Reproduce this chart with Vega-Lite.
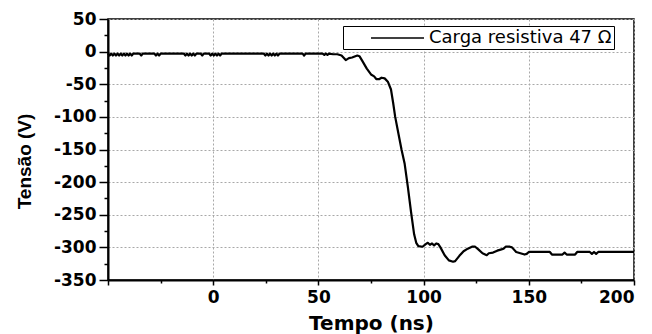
{
 "$schema": "https://vega.github.io/schema/vega-lite/v6.json",
 "width": 526,
 "height": 261,
 "autosize": {"type": "none"},
 "padding": {"left": 108, "top": 19, "right": 18, "bottom": 54},
 "background": "white",
 "config": {
  "view": {"stroke": "black", "strokeWidth": 1.5}
 },
 "data": {"values": [
  {"t": -50, "v": -3}, {"t": -49.2, "v": -6}, {"t": -48.5, "v": -3}, {"t": -47.7, "v": -6}, {"t": -47, "v": -3}, {"t": -46.2, "v": -6}, {"t": -45.5, "v": -3}, {"t": -44.7, "v": -6}, {"t": -44, "v": -3}, {"t": -43.2, "v": -6}, {"t": -42.5, "v": -3}, {"t": -41.7, "v": -6}, {"t": -41, "v": -3}, {"t": -40.2, "v": -6}, {"t": -39.5, "v": -3}, {"t": -38.7, "v": -6}, {"t": -38, "v": -3},
  {"t": -35, "v": -3}, {"t": -34.2, "v": -6}, {"t": -33.5, "v": -3},
  {"t": -28, "v": -3}, {"t": -27.2, "v": -6}, {"t": -26.5, "v": -3}, {"t": -25.7, "v": -6}, {"t": -25, "v": -3},
  {"t": -14, "v": -3}, {"t": -13.2, "v": -6}, {"t": -12.5, "v": -3}, {"t": -11.7, "v": -6}, {"t": -11, "v": -3}, {"t": -10.2, "v": -6}, {"t": -9.5, "v": -3}, {"t": -8.7, "v": -6}, {"t": -8, "v": -3},
  {"t": -6, "v": -3}, {"t": -5.2, "v": -6}, {"t": -4.5, "v": -3},
  {"t": -2, "v": -3}, {"t": -1.2, "v": -6}, {"t": -0.5, "v": -3}, {"t": 0.3, "v": -6}, {"t": 1, "v": -3}, {"t": 1.8, "v": -6}, {"t": 2.5, "v": -3}, {"t": 3.3, "v": -6}, {"t": 4, "v": -3},
  {"t": 24, "v": -3}, {"t": 24.8, "v": -6}, {"t": 25.5, "v": -3}, {"t": 26.3, "v": -6}, {"t": 27, "v": -3}, {"t": 27.8, "v": -6}, {"t": 28.5, "v": -3}, {"t": 29.3, "v": -6}, {"t": 30, "v": -3}, {"t": 30.8, "v": -6}, {"t": 31.5, "v": -3},
  {"t": 42.5, "v": -3}, {"t": 43.2, "v": -6}, {"t": 44, "v": -3},
  {"t": 52, "v": -3}, {"t": 52.8, "v": -5}, {"t": 53.5, "v": -3}, {"t": 54.3, "v": -5}, {"t": 55, "v": -3}, {"t": 57, "v": -4},
  {"t": 59, "v": -4}, {"t": 61, "v": -6}, {"t": 63, "v": -13}, {"t": 64.5, "v": -10}, {"t": 66, "v": -9}, {"t": 68.5, "v": -6}, {"t": 69.5, "v": -7}, {"t": 71, "v": -15}, {"t": 73, "v": -26}, {"t": 75, "v": -35}, {"t": 76.5, "v": -38}, {"t": 77.5, "v": -42}, {"t": 79, "v": -42}, {"t": 80, "v": -40}, {"t": 81.5, "v": -41}, {"t": 83, "v": -46}, {"t": 84.5, "v": -58}, {"t": 85.5, "v": -78}, {"t": 86.5, "v": -100}, {"t": 88, "v": -125}, {"t": 89.5, "v": -150}, {"t": 91, "v": -172}, {"t": 92.5, "v": -207}, {"t": 94, "v": -245}, {"t": 95.5, "v": -280}, {"t": 96.5, "v": -293}, {"t": 97.5, "v": -298}, {"t": 99.5, "v": -299},
  {"t": 101, "v": -295}, {"t": 102, "v": -293}, {"t": 103, "v": -296}, {"t": 104, "v": -294}, {"t": 105, "v": -297}, {"t": 106, "v": -294}, {"t": 107, "v": -295}, {"t": 108, "v": -300}, {"t": 110, "v": -312}, {"t": 112, "v": -320}, {"t": 114, "v": -322}, {"t": 115, "v": -321}, {"t": 117, "v": -313}, {"t": 119, "v": -306}, {"t": 121, "v": -302}, {"t": 123, "v": -299}, {"t": 124.5, "v": -299}, {"t": 126, "v": -303}, {"t": 128, "v": -309}, {"t": 130, "v": -312}, {"t": 131, "v": -309}, {"t": 133, "v": -308}, {"t": 135, "v": -305}, {"t": 137, "v": -303}, {"t": 138, "v": -302}, {"t": 139, "v": -299}, {"t": 141, "v": -299}, {"t": 142, "v": -300}, {"t": 144, "v": -307}, {"t": 146, "v": -309}, {"t": 148, "v": -311}, {"t": 149, "v": -310}, {"t": 150, "v": -307},
  {"t": 160, "v": -307}, {"t": 161, "v": -311}, {"t": 166, "v": -311}, {"t": 167, "v": -308}, {"t": 168, "v": -311}, {"t": 172, "v": -311}, {"t": 173, "v": -307}, {"t": 179, "v": -307}, {"t": 180, "v": -310}, {"t": 181, "v": -307}, {"t": 182, "v": -310}, {"t": 183, "v": -307}, {"t": 200, "v": -307}
 ]},
 "mark": {"type": "line", "strokeWidth": 2.2, "strokeJoin": "round"},
 "encoding": {
  "x": {"field": "t", "type": "quantitative",
   "scale": {"domain": [-50, 200], "nice": false, "zero": false},
   "axis": {"orient": "bottom", "values": [-50, -25, 0, 25, 50, 75, 100, 125, 150, 175, 200], "title": "Tempo (ns)",
    "labelExpr": "(datum.value % 50 != 0 || datum.value == -50) ? '' : replace(datum.label, '\u2212', '-')",
    "labelOverlap": false,
    "grid": true, "gridColor": "#a8a8a8", "gridDash": [2, 2], "gridWidth": 1,
    "gridOpacity": {"condition": {"test": "datum.value % 50 != 0", "value": 0}, "value": 1},
    "domainColor": "black", "domainWidth": 2, "tickColor": "black", "tickWidth": 1.5,
    "tickSize": {"condition": {"test": "datum.value % 50 != 0", "value": 3}, "value": 5},
    "labelFont": "DejaVu Sans", "labelFontWeight": "bold", "labelFontSize": 17, "labelColor": "black", "labelPadding": 4,
    "titleFont": "DejaVu Sans", "titleFontWeight": "bold", "titleFontSize": 20, "titleColor": "black",
    "titleX": 263, "titleY": 33, "titleBaseline": "top", "titleAlign": "center"}},
  "y": {"field": "v", "type": "quantitative",
   "scale": {"domain": [-350, 50], "nice": false, "zero": false},
   "axis": {"orient": "left", "values": [-350, -325, -300, -275, -250, -225, -200, -175, -150, -125, -100, -75, -50, -25, 0, 25, 50], "title": "Tensão (V)",
    "labelExpr": "datum.value % 50 != 0 ? '' : replace(datum.label, '\u2212', '-')",
    "labelOverlap": false,
    "grid": true, "gridColor": "#a8a8a8", "gridDash": [2, 2], "gridWidth": 1,
    "gridOpacity": {"condition": {"test": "datum.value % 50 != 0", "value": 0}, "value": 1},
    "domainColor": "black", "domainWidth": 2, "tickColor": "black", "tickWidth": 1.5,
    "tickSize": {"condition": {"test": "datum.value % 50 != 0", "value": 4}, "value": 9},
    "labelFont": "DejaVu Sans", "labelFontWeight": "bold", "labelFontSize": 17, "labelColor": "black", "labelPadding": 3,
    "titleFont": "Liberation Sans", "titleFontWeight": "bold", "titleFontSize": 19, "titleColor": "black",
    "titleAngle": -90, "titleX": -84, "titleY": 142, "titleBaseline": "middle", "titleAlign": "center"}},
  "color": {"datum": "Carga resistiva 47 Ω", "type": "nominal",
   "scale": {"range": ["black"]},
   "legend": {"orient": "none", "legendX": 235, "legendY": 7, "title": null,
    "symbolType": "M1.78,0L7.67,0", "symbolSize": 324, "symbolStrokeWidth": 1.5, "symbolStrokeColor": "black",
    "labelFont": "DejaVu Sans", "labelFontSize": 18, "labelColor": "black", "labelOffset": 64, "labelLimit": 400,
    "strokeColor": "black", "fillColor": "white", "padding": 2}}
 }
}
